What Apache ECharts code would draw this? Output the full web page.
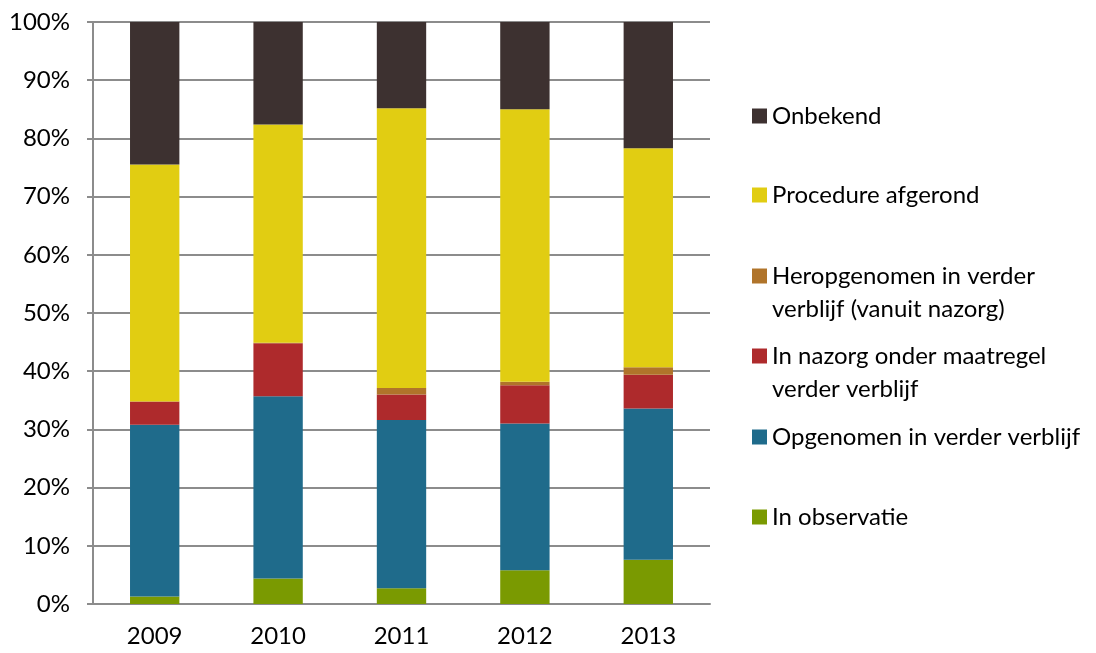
<!DOCTYPE html>
<html>
<head>
<meta charset="utf-8">
<script src="https://cdn.jsdelivr.net/npm/echarts@6/dist/echarts.min.js"></script>
<style>html,body{margin:0;padding:0;background:#fff}#c{width:1096px;height:653px}</style>
</head>
<body>
<div id="c"></div>
<script>
var years = ['2009', '2010', '2011', '2012', '2013'];
var inObservatie = [1.3, 4.4, 2.7, 5.8, 7.6];
var opgenomen = [29.5, 31.3, 28.9, 25.2, 26.0];
var inNazorg = [4.0, 9.1, 4.4, 6.6, 5.8];
var heropgenomen = [0.0, 0.1, 1.1, 0.6, 1.3];
var procedureAfgerond = [40.7, 37.5, 48.1, 46.8, 37.6];
var onbekend = [24.5, 17.6, 14.8, 15.0, 21.7];
var yTicks = ['0%', '10%', '20%', '30%', '40%', '50%', '60%', '70%', '80%', '90%', '100%'];

var FONT = 'Lato';
var seriesDefs = [
  {name: 'In observatie', data: inObservatie, color: '#7A9A01', label: 'In observatie', lines: 1, y: 517},
  {name: 'Opgenomen in verder verblijf', data: opgenomen, color: '#1F6B8B', label: 'Opgenomen in verder verblijf', lines: 1, y: 437},
  {name: 'In nazorg onder maatregel verder verblijf', data: inNazorg, color: '#AE2A2C', label: 'In nazorg onder maatregel\nverder verblijf', lines: 2, y: 356},
  {name: 'Heropgenomen in verder verblijf (vanuit nazorg)', data: heropgenomen, color: '#B0742A', label: 'Heropgenomen in verder\nverblijf (vanuit nazorg)', lines: 2, y: 276},
  {name: 'Procedure afgerond', data: procedureAfgerond, color: '#E1CD12', label: 'Procedure afgerond', lines: 1, y: 195},
  {name: 'Onbekend', data: onbekend, color: '#3D3130', label: 'Onbekend', lines: 1, y: 116}
];

var series = seriesDefs.map(function (s) {
  return {
    name: s.name, type: 'bar', stack: 'total', barWidth: '40%',
    data: s.data, itemStyle: {color: s.color}
  };
});

var legends = seriesDefs.map(function (s) {
  var two = s.lines === 2;
  return {
    data: [s.name], left: 752,
    top: two ? s.y - 49.5 : s.y - 12,
    orient: 'vertical', padding: 0,
    itemWidth: 15, itemHeight: 15, itemGap: 6,
    icon: 'rect', selectedMode: false,
    formatter: function () { return two ? ' \n' + s.label : s.label; },
    textStyle: {
      fontFamily: FONT, fontSize: 24, color: '#000',
      lineHeight: two ? 33 : 24
    }
  };
});

var chart = echarts.init(document.getElementById('c'));
chart.setOption({
  animation: false,
  grid: {left: 93, right: 386, top: 22, bottom: 49, containLabel: false},
  legend: legends,
  xAxis: {
    type: 'category', data: years,
    axisLine: {lineStyle: {color: '#8C8C8C', width: 2}},
    axisTick: {show: false},
    axisLabel: {fontFamily: FONT, fontSize: 24, color: '#000', margin: 20}
  },
  yAxis: {
    type: 'value', min: 0, max: 100, interval: 10,
    axisLine: {show: true, lineStyle: {color: '#8C8C8C', width: 2}},
    axisTick: {show: true, length: 6, lineStyle: {color: '#8C8C8C', width: 2}},
    splitLine: {lineStyle: {color: '#8C8C8C', width: 2}},
    axisLabel: {
      fontFamily: FONT, fontSize: 24, color: '#000', margin: 23,
      formatter: function (v) { return yTicks[Math.round(v / 10)]; }
    }
  },
  series: series
});
</script>
</body>
</html>
